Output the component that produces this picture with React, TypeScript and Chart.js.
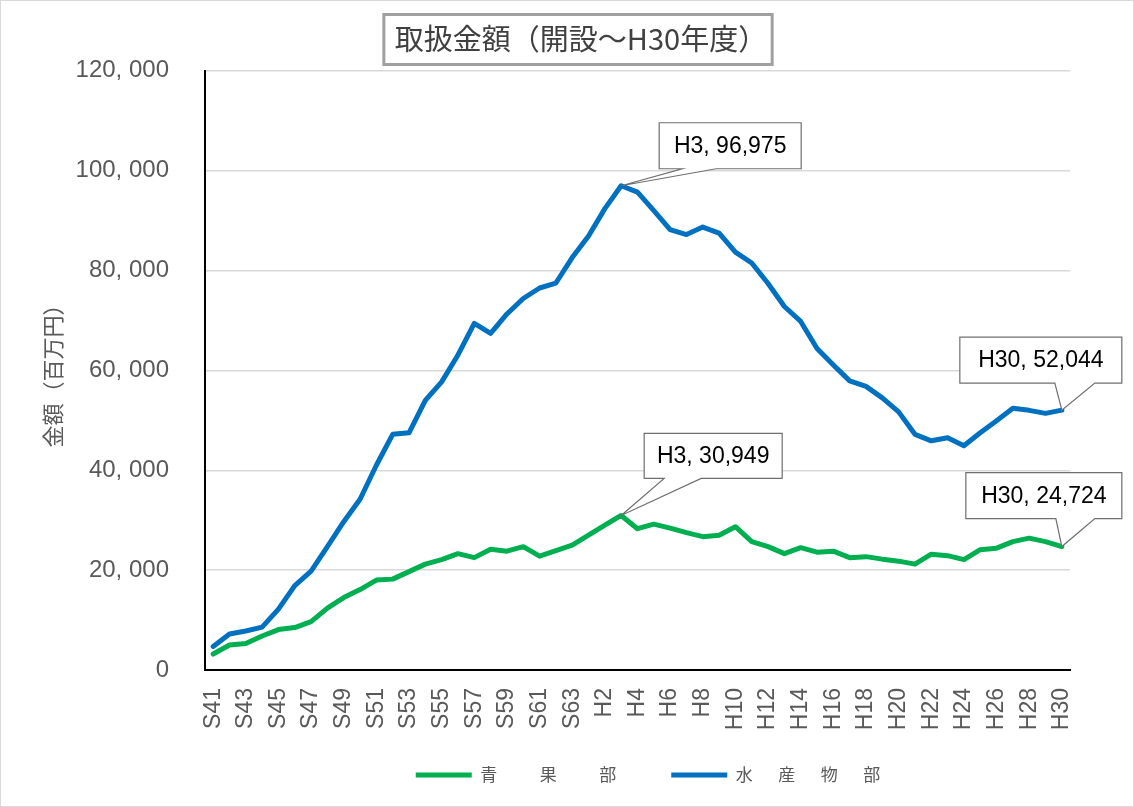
import React, { useEffect, useRef } from 'react';
import { Chart, registerables } from 'chart.js';

Chart.register(...registerables);

const categories = [
  'S41', 'S42', 'S43', 'S44', 'S45', 'S46', 'S47', 'S48', 'S49', 'S50',
  'S51', 'S52', 'S53', 'S54', 'S55', 'S56', 'S57', 'S58', 'S59', 'S60',
  'S61', 'S62', 'S63',
  'H1', 'H2', 'H3', 'H4', 'H5', 'H6', 'H7', 'H8', 'H9', 'H10',
  'H11', 'H12', 'H13', 'H14', 'H15', 'H16', 'H17', 'H18', 'H19', 'H20',
  'H21', 'H22', 'H23', 'H24', 'H25', 'H26', 'H27', 'H28', 'H29', 'H30',
];

// 青果部
const produceValues = [
  3200, 5000, 5300, 6800, 8100, 8500, 9700, 12400, 14500, 16100,
  18000, 18200, 19700, 21200, 22100, 23300, 22500, 24200, 23800, 24700,
  22800, 23900, 25000,
  27000, 29000, 30949, 28300, 29200, 28400, 27500, 26700, 27000, 28700,
  25700, 24700, 23300, 24500, 23600, 23800, 22500, 22700, 22200, 21800,
  21200, 23200, 22900, 22100, 24100, 24400, 25700, 26400, 25700, 24724,
];

// 水産物部
const seafoodValues = [
  4700, 7200, 7800, 8600, 12200, 16900, 19800, 24700, 29700, 34200,
  41000, 47200, 47500, 54000, 57700, 63100, 69400, 67400, 71300, 74400,
  76500, 77500, 82600,
  86900, 92400, 96975, 95700, 92000, 88200, 87200, 88700, 87500, 83700,
  81500, 77400, 72800, 69800, 64400, 61100, 57900, 56800, 54500, 51700,
  47200, 45900, 46500, 44900, 47500, 49900, 52400, 52000, 51400, 52044,
];

const seriesNames = ['青　　\u2002果　　\u2002部', '水　\u2002産　\u2002物　\u2002部'];
const titleText = '取扱金額（開設～H30年度）';
const yAxisTitle = '金額（百万円）';
const yTickValues = [0, 20000, 40000, 60000, 80000, 100000, 120000];

// callouts: dataset index, category index
const calloutTargets = [
  { ds: 1, idx: 25 },
  { ds: 0, idx: 25 },
  { ds: 1, idx: 52 },
  { ds: 0, idx: 52 },
];

const LAT = "'Liberation Sans', Arial, sans-serif";
const CJK = "'Noto Sans CJK JP', 'Noto Sans', sans-serif";
const GRAY = '#595959';

const fmt = (v: number) => v.toLocaleString('en-US');
const fmtTick = (v: number) => v.toLocaleString('en-US').replace(/,/g, ', ');

// geometry of each callout relative to its point (style only)
const calloutGeom = [
  { l: 38, r: 180, t: -63, b: -17, b1: 61, b2: 95 },
  { l: 23, r: 161, t: -82, b: -37, b1: 43, b2: 80 },
  { l: -102, r: 60, t: -73, b: -27, b1: -7, b2: 33 },
  { l: -96, r: 60, t: -74, b: -28, b1: -6, b2: 33 },
];

const decorPlugin = {
  id: 'decor',
  afterLayout(chart: any) {
    const tb = chart.titleBlock;
    if (tb) {
      const shift = 581 - (tb.left + tb.right) / 2;
      tb.left += shift;
      tb.right += shift;
    }
    const lg = chart.legend;
    if (lg) {
      const shift = 648 - (lg.left + lg.right) / 2;
      lg.left += shift;
      lg.right += shift;
    }
    const xs = chart.scales.x;
    if (xs) {
      xs.bottom = xs.top + 90;
    }
  },
  beforeDraw(chart: any) {
    const ctx = chart.ctx;
    ctx.save();
    ctx.fillStyle = '#ffffff';
    ctx.fillRect(0, 0, chart.width, chart.height);
    ctx.strokeStyle = '#d9d9d9';
    ctx.lineWidth = 1;
    ctx.strokeRect(0.5, 0.5, chart.width - 1, chart.height - 1);
    ctx.restore();
  },
  afterDatasetsDraw(chart: any) {
    const ctx = chart.ctx;
    ctx.save();
    calloutTargets.forEach((c, i) => {
      const pt = chart.getDatasetMeta(c.ds).data[c.idx];
      if (!pt) return;
      const g = calloutGeom[i];
      const px = pt.x;
      const py = pt.y;
      ctx.beginPath();
      ctx.moveTo(px + g.l, py + g.t);
      ctx.lineTo(px + g.r, py + g.t);
      ctx.lineTo(px + g.r, py + g.b);
      ctx.lineTo(px + g.b2, py + g.b);
      ctx.lineTo(px, py);
      ctx.lineTo(px + g.b1, py + g.b);
      ctx.lineTo(px + g.l, py + g.b);
      ctx.closePath();
      ctx.fillStyle = '#ffffff';
      ctx.fill();
      ctx.strokeStyle = '#6f6f6f';
      ctx.lineWidth = 1.2;
      ctx.stroke();
      const data = chart.data.datasets[c.ds].data as number[];
      const text = `${categories[c.idx]}, ${fmt(data[c.idx])}`;
      ctx.fillStyle = '#000000';
      ctx.font = `23px ${LAT}`;
      ctx.textAlign = 'center';
      ctx.textBaseline = 'middle';
      ctx.fillText(text, px + (g.l + g.r) / 2, py + (g.t + g.b) / 2 + 1);
    });
    ctx.restore();
  },
  afterDraw(chart: any) {
    const tb = chart.titleBlock;
    if (!tb) return;
    const ctx = chart.ctx;
    ctx.save();
    ctx.font = `29px ${CJK}`;
    const w = ctx.measureText(titleText).width;
    const cx = (tb.left + tb.right) / 2;
    const x0 = cx - w / 2;
    ctx.strokeStyle = '#a0a0a0';
    ctx.lineWidth = 3;
    ctx.strokeRect(x0 - 11, 14.5, w + 16, 50);
    ctx.restore();
  },
};

export default function App() {
  const canvasRef = useRef<HTMLCanvasElement | null>(null);

  useEffect(() => {
    document.body.style.margin = '0';
    const canvas = canvasRef.current;
    if (!canvas) return;
    const chart = new Chart(canvas, {
      type: 'line',
      data: {
        labels: categories,
        datasets: [
          {
            label: seriesNames[0],
            data: produceValues,
            borderColor: '#00B050',
            backgroundColor: '#00B050',
            borderWidth: 5,
            pointRadius: 0,
            pointHoverRadius: 0,
            tension: 0,
            borderCapStyle: 'round',
            borderJoinStyle: 'round',
            pointStyle: 'line',
          },
          {
            label: seriesNames[1],
            data: seafoodValues,
            borderColor: '#0070C0',
            backgroundColor: '#0070C0',
            borderWidth: 5,
            pointRadius: 0,
            pointHoverRadius: 0,
            tension: 0,
            borderCapStyle: 'round',
            borderJoinStyle: 'round',
            pointStyle: 'line',
          },
        ],
      },
      options: {
        responsive: false,
        animation: false,
        events: [],
        layout: { padding: { left: 39, right: 64, top: 0, bottom: 13.5 } },
        plugins: {
          tooltip: { enabled: false },
          title: {
            display: true,
            text: titleText,
            color: '#404040',
            font: { family: CJK, size: 29, weight: 'normal' },
            padding: { top: 22, bottom: 14 },
          },
          legend: {
            display: true,
            position: 'bottom',
            labels: {
              usePointStyle: true,
              pointStyleWidth: 56,
              boxHeight: 17,
              padding: 55,
              color: GRAY,
              font: { family: CJK, size: 17 },
            },
          },
        },
        scales: {
          x: {
            type: 'category',
            offset: true,
            grid: { display: false, drawTicks: false },
            border: { display: true, color: '#000000', width: 2 },
            ticks: {
              autoSkip: false,
              maxRotation: 90,
              minRotation: 90,
              padding: 18,
              color: GRAY,
              font: { family: LAT, size: 23 },
              callback: (_v: any, idx: number) => (idx % 2 === 0 ? categories[idx] : ''),
            },
            afterFit: (scale: any) => {
              scale.height = 41.5;
            },
          },
          y: {
            min: 0,
            max: 120000,
            afterBuildTicks: (scale: any) => {
              scale.ticks = yTickValues.map((v) => ({ value: v }));
            },
            grid: { color: '#d9d9d9', lineWidth: 1.5, drawTicks: false },
            border: { display: true, color: '#000000', width: 2 },
            ticks: {
              padding: 36,
              color: GRAY,
              font: { family: LAT, size: 24 },
              callback: (v: any) => fmtTick(Number(v)),
            },
            title: {
              display: true,
              text: yAxisTitle,
              color: GRAY,
              font: { family: CJK, size: 22 },
              padding: { top: 0, bottom: 13 },
            },
            afterFit: (scale: any) => {
              scale.width = 166;
            },
          },
        },
      },
      plugins: [decorPlugin],
    });
    return () => {
      chart.destroy();
    };
  }, []);

  return (
    <div style={{ width: 1134, height: 807 }}>
      <canvas ref={canvasRef} width={1134} height={807} style={{ display: 'block' }} />
    </div>
  );
}
